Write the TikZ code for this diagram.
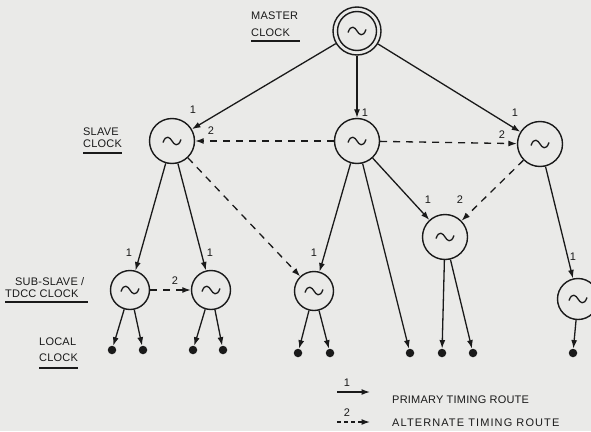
\documentclass[tikz,border=0pt]{standalone}
\usepackage{fontspec}
\setmainfont{Liberation Sans}
\usetikzlibrary{arrows.meta}
\definecolor{ink}{HTML}{1A1A1A}
\definecolor{paper}{HTML}{EAEAE8}
\begin{document}
\begin{tikzpicture}[x=1pt,y=-1pt,
  ln/.style={line width=1.3pt, draw=ink},
  clk/.style={circle, draw=ink, line width=1.4pt, minimum size=45pt, inner sep=0pt},
  smallclk/.style={clk, minimum size=39pt},
  prim/.style={ln, -{Latex[length=8.5pt,width=6pt]}},
  alt/.style={prim, dash pattern=on 7pt off 6pt},
  dot/.style={circle, fill=ink, minimum size=8.5pt, inner sep=0pt},
  num/.style={font=\fontsize{11}{11}\selectfont, text=ink, inner sep=0pt},
  lbl/.style={font=\fontsize{11}{11}\selectfont\addfontfeatures{LetterSpace=2}, text=ink, inner sep=0pt, anchor=west},
  wave/.pic={\draw[ink, line width=1.3pt] (-9,1.5) .. controls (-6,-7) and (-2,-3.5) .. (0,0) .. controls (2,3.5) and (6,7) .. (9,-1.5);}]
\fill[paper] (0,0) rectangle (591,431);
\useasboundingbox (0,0) rectangle (591,431);
% clocks
\node[clk, minimum size=48pt] (m) at (357,31) {};
\draw[ink, line width=1.4pt] (m.center) circle (19.5);
\node[clk] (s1) at (172,141) {};
\node[clk] (s2) at (357,141) {};
\node[clk] (s3) at (540,144) {};
\node[clk] (n4) at (445,237) {};
\node[smallclk] (ss1) at (130,290) {};
\node[smallclk] (ss2) at (211,290) {};
\node[smallclk] (ss3) at (314,291) {};
\node[smallclk, minimum size=41pt] (ss4) at (578,299) {};
\foreach \n in {m,s1,s2,s3,n4,ss1,ss2,ss3,ss4} {\pic at (\n.center) {wave};}
% local clocks
\node[dot] (d1) at (112,350) {};
\node[dot] (d2) at (143,350) {};
\node[dot] (d3) at (193,350) {};
\node[dot] (d4) at (223,350) {};
\node[dot] (d5) at (298,353) {};
\node[dot] (d6) at (330,353) {};
\node[dot] (d7) at (410,353) {};
\node[dot] (d8) at (442,353) {};
\node[dot] (d9) at (473,353) {};
\node[dot] (d10) at (573,353) {};
% primary routes
\draw[prim] (m) -- (s1);
\draw[prim] (m) -- (s2);
\draw[prim] (m) -- (s3);
\draw[prim] (s1) -- (ss1);
\draw[prim] (s1) -- (ss2);
\draw[prim] (s2) -- (ss3);
\draw[prim] (s2) -- (d7);
\draw[prim] (s2) -- (n4);
\draw[prim] (s3) -- (ss4);
% alternate routes
\draw[alt] (s2) -- (s1);
\draw[alt] (s2) -- (s3);
\draw[alt] (s1) -- (ss3);
\draw[alt] (ss1) -- (ss2);
\draw[alt] (s3) -- (n4);
% to local clocks
\draw[prim] (ss1) -- (d1);
\draw[prim] (ss1) -- (d2);
\draw[prim] (ss2) -- (d3);
\draw[prim] (ss2) -- (d4);
\draw[prim] (ss3) -- (d5);
\draw[prim] (ss3) -- (d6);
\draw[prim] (n4) -- (d8);
\draw[prim] (n4) -- (d9);
\draw[prim] (ss4) -- (d10);
% route numbers
\node[num] (l1) at (193,110) {1};
\node[num] (l2) at (211,131) {2};
\node[num] (l3) at (365,113) {1};
\node[num] (l4) at (515,113) {1};
\node[num] (l5) at (502,135) {2};
\node[num] (l6) at (428,200) {1};
\node[num] (l7) at (460,200) {2};
\node[num] (l8) at (314,253) {1};
\node[num] (l9) at (573,257) {1};
\node[num] (l10) at (129,253) {1};
\node[num] (l11) at (210,253) {1};
\node[num] (l12) at (175,281) {2};
% labels
\node[lbl] (tm1) at (251,16) {MASTER};
\node[lbl] (tm2) at (251,33) {CLOCK};
\draw[ln] (251,41) -- (300,41);
\node[lbl] (ts1) at (83,132) {SLAVE};
\node[lbl] (ts2) at (83,144) {CLOCK};
\draw[ln] (83,153) -- (122,153);
\node[lbl] (tb1) at (15,282) {SUB-SLAVE /};
\node[lbl] (tb2) at (5,294) {TDCC CLOCK};
\draw[ln] (5,302) -- (88,302);
\node[lbl] (tl1) at (39,342) {LOCAL};
\node[lbl] (tl2) at (39,358) {CLOCK};
\draw[ln] (39,368) -- (78,368);
% legend
\coordinate (la) at (337,392);
\coordinate (lb) at (370,392);
\coordinate (lc) at (337,422);
\coordinate (ld) at (370,422);
\draw[prim] (la) -- (lb);
\draw[prim, dash pattern=on 4pt off 3pt] (lc) -- (ld);
\node[num] (lg1) at (347,383) {1};
\node[num] (lg2) at (347,413) {2};
\node[lbl, font=\fontsize{11}{11}\selectfont\addfontfeatures{LetterSpace=2}] (tp) at (392,400) {PRIMARY TIMING ROUTE};
\node[lbl, font=\fontsize{11}{11}\selectfont\addfontfeatures{LetterSpace=10}] (ta) at (392,423) {ALTERNATE TIMING ROUTE};
\end{tikzpicture}
\end{document}
